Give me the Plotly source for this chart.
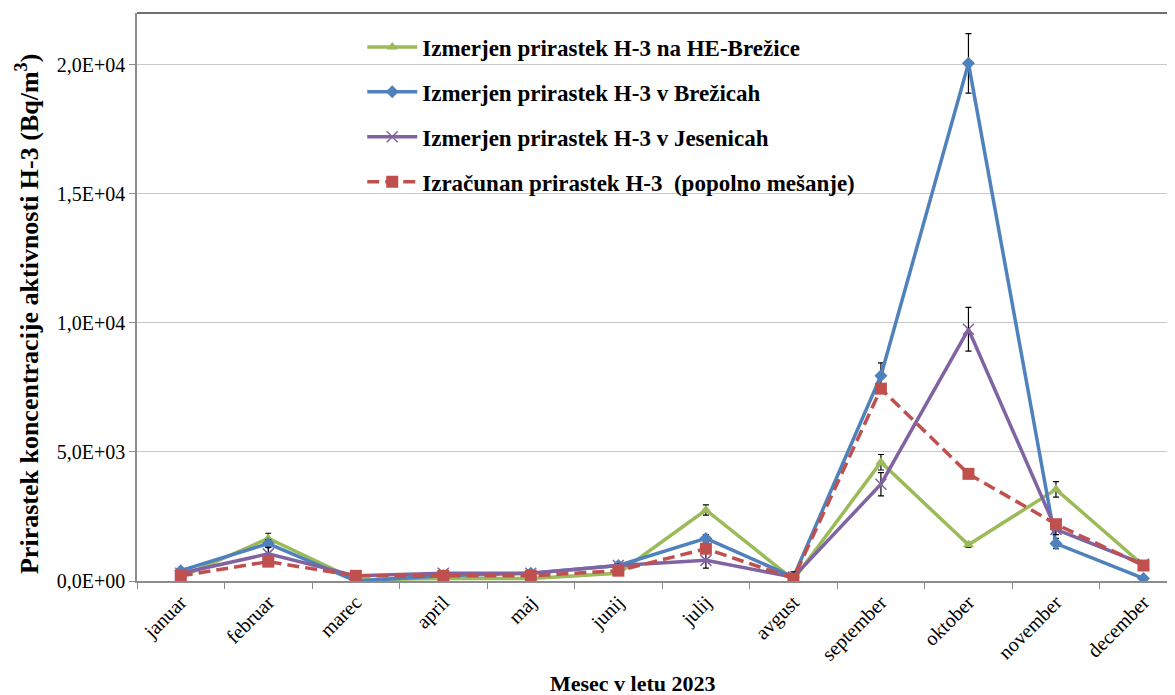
import plotly.graph_objects as go

months = ["januar", "februar", "marec", "april", "maj", "junij", "julij",
          "avgust", "september", "oktober", "november", "december"]

he_brezice = [150, 1650, 50, 100, 100, 300, 2750, 50, 4600, 1400, 3550, 600]
he_brezice_err = [20, 200, 10, 10, 10, 30, 200, 10, 300, 100, 300, 60]

brezice = [400, 1450, 0, 200, 300, 600, 1650, 150, 7950, 20050, 1450, 100]
brezice_err = [40, 150, 10, 20, 30, 60, 150, 50, 500, 1150, 200, 20]

jesenice = [300, 1050, 200, 300, 300, 600, 800, 150, 3750, 9750, 2000, 650]
jesenice_err = [30, 250, 20, 30, 30, 60, 300, 200, 450, 850, 200, 60]

izracunan = [200, 750, 200, 200, 200, 400, 1250, 100, 7450, 4150, 2200, 600]

y_ticks = [0, 5000, 10000, 15000, 20000]
y_ticktext = ["0,0E+00", "5,0E+03", "1,0E+04", "1,5E+04", "2,0E+04"]

FONT = "Liberation Serif"
err_style = dict(type="data", visible=True, color="black", thickness=1.2, width=3)

fig = go.Figure()
fig.add_trace(go.Scatter(
    x=months, y=he_brezice, name="<b>Izmerjen prirastek H-3 na HE-Brežice</b>",
    mode="lines+markers", legendgroup="a",
    line=dict(color="#9BBB59", width=3.5),
    marker=dict(symbol="triangle-up", size=10, color="#9BBB59"),
    error_y=dict(array=he_brezice_err, **err_style)))
fig.add_trace(go.Scatter(
    x=months, y=brezice, name="<b>Izmerjen prirastek H-3 v Brežicah</b>",
    mode="lines+markers", legendgroup="b",
    line=dict(color="#4F81BD", width=3.5),
    marker=dict(symbol="diamond", size=10, color="#4F81BD"),
    error_y=dict(array=brezice_err, **err_style)))
fig.add_trace(go.Scatter(
    x=months, y=jesenice, name="<b>Izmerjen prirastek H-3 v Jesenicah</b>",
    mode="lines+markers", legendgroup="c",
    line=dict(color="#8064A2", width=3.5),
    marker=dict(symbol="x-thin-open", size=11, color="#8064A2",
                line=dict(color="#8064A2", width=1.5)),
    error_y=dict(array=jesenice_err, **err_style)))
fig.add_trace(go.Scatter(
    x=months, y=izracunan, name="<b>Izračunan prirastek H-3  (popolno mešanje)</b>",
    mode="lines+markers", legendgroup="d",
    line=dict(color="#C0504D", width=3.5, dash="12px,6px"),
    marker=dict(symbol="square", size=12, color="#C0504D")))

fig.update_layout(
    width=1167, height=687,
    margin=dict(l=129, r=0, t=5, b=114),
    paper_bgcolor="white", plot_bgcolor="white",
    font=dict(family=FONT, color="black", size=20),
    showlegend=True,
    legend=dict(x=0.217, y=0.978, xanchor="left", yanchor="top",
                bgcolor="rgba(0,0,0,0)", tracegroupgap=12, itemwidth=50,
                font=dict(family=FONT, size=23, color="black")),
    xaxis=dict(
        type="category", range=[-0.5, 11.36], automargin=False,
        showgrid=False, showline=True, linecolor="#8c8c8c", linewidth=1.5,
        ticks="outside", tickson="boundaries", ticklen=6, tickcolor="#8c8c8c",
        tickangle=-45, tickfont=dict(family=FONT, size=20, color="black"),
    ),
    yaxis=dict(
        range=[0, 22000], tickvals=y_ticks, ticktext=y_ticktext, automargin=False,
        showgrid=True, gridcolor="#c8c8c8", gridwidth=1,
        showline=True, linecolor="#8c8c8c", linewidth=1.5,
        ticks="outside", ticklen=6, tickcolor="#8c8c8c",
        tickfont=dict(family=FONT, size=20, color="black"),
        zeroline=False,
    ),
    shapes=[dict(type="line", xref="paper", yref="paper", x0=0, x1=1, y0=1, y1=1,
                 line=dict(color="#404040", width=1.5))],
    annotations=[
        dict(text="<b>Mesec v letu 2023</b>", xref="paper", yref="paper",
             x=0.478, y=-0.181, xanchor="center", yanchor="middle",
             showarrow=False, font=dict(family=FONT, size=22, color="black")),
        dict(text="<b>Prirastek koncentracije aktivnosti H-3 (Bq/m<sup>3</sup>)</b>",
             xref="paper", yref="paper", x=-0.106, y=0.47, textangle=-90,
             xanchor="center", yanchor="middle", showarrow=False,
             font=dict(family=FONT, size=26, color="black")),
    ],
)

fig.write_html("out.html")
